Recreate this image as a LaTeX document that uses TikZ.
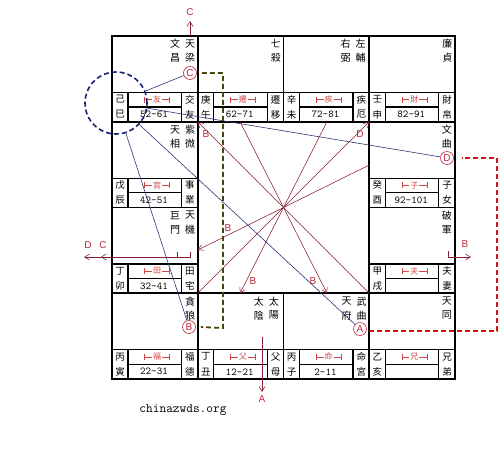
\documentclass[tikz,border=0pt]{standalone}
\usepackage{fontspec}
\newfontfamily\cjk{Noto Sans CJK TC}
\setsansfont{Liberation Sans}
\usetikzlibrary{arrows.meta}
\definecolor{tagred}{RGB}{210,70,70}
\definecolor{arrred}{RGB}{135,30,50}
\definecolor{lblred}{RGB}{190,40,60}
\definecolor{olivedash}{RGB}{70,70,15}
\definecolor{reddash}{RGB}{205,20,20}
\definecolor{navy}{RGB}{25,35,120}
\definecolor{slate}{RGB}{45,55,120}
\tikzset{
 cellline/.style={line width=1.6pt},
 bandline/.style={line width=1.2pt},
 startext/.style={font=\cjk\fontsize{10}{10}\selectfont, inner sep=0pt},
 bandtext/.style={font=\cjk\fontsize{9.5}{10}\selectfont, inner sep=0pt},
 tagtext/.style={font=\cjk\fontsize{8}{8}\selectfont, text=tagred, inner sep=0.8pt},
 tagline/.style={tagred, line width=0.5pt},
 dectext/.style={font=\ttfamily\fontsize{10.5}{10.5}\selectfont, inner sep=0pt},
 circmark/.style={circle, draw=lblred, line width=0.6pt, minimum size=13pt, inner sep=0pt, text=lblred, font=\sffamily\fontsize{10}{10}\selectfont},
 flyline/.style={arrred, line width=0.55pt},
 flyarrow/.style={flyline, -{Straight Barb[length=5pt,width=6pt]}},
 lbl/.style={text=lblred, font=\sffamily\fontsize{10}{10}\selectfont, inner sep=0pt},
 linkline/.style={slate, line width=0.6pt},
 olivestroke/.style={olivedash, line width=1.8pt, dash pattern=on 5pt off 3pt},
 redstroke/.style={reddash, line width=2pt, dash pattern=on 5pt off 3pt},
}
\newcommand\palace[9]{%
 \pgfmathsetmacro\px{112+#1*85.75}%
 \pgfmathsetmacro\py{36+#2*85.75}%
 \draw[cellline] (\px,\py) rectangle ++(85.75,85.75);
 \draw[bandline] (\px,\py+56.5) -- ++(85.75,0)
   (\px+16,\py+56.5) -- (\px+16,\py+85.75)
   (\px+69.5,\py+56.5) -- (\px+69.5,\py+85.75)
   (\px+16,\py+71) -- (\px+69.5,\py+71);
 \node[bandtext] (#9a) at (\px+8,\py+63.5) {#3};
 \node[bandtext] (#9b) at (\px+8,\py+78.5) {#4};
 \node[tagtext] (#9t) at (\px+45,\py+63.5) {#5};
 \draw[tagline] (\px+32.5,\py+60.5) -- (\px+32.5,\py+66.5) (\px+32.5,\py+63.5) -- (#9t.west)
   (#9t.east) -- (\px+57.5,\py+63.5) (\px+57.5,\py+60.5) -- (\px+57.5,\py+66.5);
 \node[dectext] (#9d) at (\px+42,\py+78.5) {#6};
 \node[bandtext] (#9n) at (\px+77.75,\py+63.5) {#7};
 \node[bandtext] (#9m) at (\px+77.75,\py+78.5) {#8};
}
\newcommand\starcol[6]{%
 \pgfmathsetmacro\px{112+#1*85.75}%
 \pgfmathsetmacro\py{36+#2*85.75}%
 \node[startext] (#6a) at (\px+#3,\py+8) {#4};
 \node[startext] (#6b) at (\px+#3,\py+22) {#5};
}
\begin{document}
\begin{tikzpicture}[x=1pt,y=-1pt]
\fill[white] (0,0) rectangle (500,448);
\useasboundingbox (0,0) rectangle (500,448);
% palaces
\palace{0}{0}{己}{巳}{友}{52-61}{交}{友}{si}
\palace{1}{0}{庚}{午}{遷}{62-71}{遷}{移}{wu}
\palace{2}{0}{辛}{未}{疾}{72-81}{疾}{厄}{wei}
\palace{3}{0}{壬}{申}{財}{82-91}{財}{帛}{shen}
\palace{3}{1}{癸}{酉}{子}{92-101}{子}{女}{you}
\palace{3}{2}{甲}{戌}{夫}{}{夫}{妻}{xu}
\palace{3}{3}{乙}{亥}{兄}{}{兄}{弟}{hai}
\palace{2}{3}{丙}{子}{命}{2-11}{命}{宮}{zi}
\palace{1}{3}{丁}{丑}{父}{12-21}{父}{母}{chou}
\palace{0}{3}{丙}{寅}{福}{22-31}{福}{德}{yin}
\palace{0}{2}{丁}{卯}{田}{32-41}{田}{宅}{mao}
\palace{0}{1}{戊}{辰}{官}{42-51}{事}{業}{chen}
% stars
\starcol{0}{0}{78}{天}{梁}{sA}
\starcol{0}{0}{63}{文}{昌}{sB}
\starcol{1}{0}{78}{七}{殺}{sC}
\starcol{2}{0}{77}{左}{輔}{sD}
\starcol{2}{0}{62}{右}{弼}{sE}
\starcol{3}{0}{78}{廉}{貞}{sF}
\starcol{3}{1}{77.5}{文}{曲}{sG}
\starcol{3}{2}{77.5}{破}{軍}{sH}
\starcol{3}{3}{77.5}{天}{同}{sI}
\starcol{2}{3}{78}{武}{曲}{sJ}
\starcol{2}{3}{63}{天}{府}{sK}
\starcol{1}{3}{76}{太}{陽}{sL}
\starcol{1}{3}{61}{太}{陰}{sM}
\starcol{0}{3}{78}{貪}{狼}{sN}
\starcol{0}{2}{78}{天}{機}{sO}
\starcol{0}{2}{63}{巨}{門}{sP}
\starcol{0}{1}{78}{紫}{微}{sQ}
\starcol{0}{1}{63}{天}{相}{sR}
% circle marks
\node[circmark] (cC) at (190,73) {C};
\node[circmark] (cD) at (447,158) {D};
\node[circmark] (cB) at (189,327) {B};
\node[circmark] (cA) at (360,329) {A};
% flying lines through the centre
\coordinate (f1a) at (197.75,121.75); \coordinate (f1b) at (369.25,293.25);
\coordinate (f2a) at (369.25,121.75); \coordinate (f2b) at (197.75,293.25);
\coordinate (f3a) at (240,121.75);    \coordinate (f3b) at (327,293.25);
\coordinate (f4a) at (327,121.75);    \coordinate (f4b) at (240,293.25);
\coordinate (f5a) at (369.25,165);    \coordinate (f5b) at (197.75,250);
\draw[flyarrow] (f1b) -- (f1a);
\draw[flyarrow] (f2b) -- (f2a);
\draw[flyarrow] (f3a) -- (f3b);
\draw[flyarrow] (f4a) -- (f4b);
\draw[flyarrow] (f5a) -- (f5b);
\node[lbl] (l1) at (206,134) {B};
\node[lbl] (l2) at (360,134) {D};
\node[lbl] (l3) at (228,228) {B};
\node[lbl] (l4) at (253,281) {B};
\node[lbl] (l5) at (313,281) {B};
% outside arrows
\coordinate (uC1) at (190,36); \coordinate (uC2) at (190,21);
\draw[flyarrow] (uC1) -- (uC2);
\node[lbl] (lC) at (190,12) {C};
\coordinate (dA1) at (262,337); \coordinate (dA2) at (262,392);
\draw[flyarrow] (dA1) -- (dA2);
\node[lbl] (lA) at (262,399) {A};
\coordinate (lt1) at (190,252); \coordinate (lt2) at (190,257); \coordinate (lt3) at (84,257);
\coordinate (lt4) at (177,252); \coordinate (lt5) at (177,257);
\draw[flyline, -{Straight Barb[length=5pt,width=6pt,sep=11pt] Straight Barb[length=5pt,width=6pt]}] (lt1) -- (lt2) -- (lt3);
\draw[flyline] (lt4) -- (lt5);
\node[lbl] (lD) at (88,245) {D};
\node[lbl] (lC2) at (103,245) {C};
\coordinate (rt1) at (448,251); \coordinate (rt2) at (448,257); \coordinate (rt3) at (471,257);
\draw[flyarrow] (rt1) -- (rt2) -- (rt3);
\node[lbl] (lB) at (465,244) {B};
% navy dashed circle and links
\node[draw=navy, circle, line width=1.6pt, dash pattern=on 5pt off 3pt, minimum size=62pt, inner sep=0pt] (nv) at (116,103) {};
\draw[linkline] (nv) -- (cC);
\draw[linkline] (nv) -- (cD);
\draw[linkline] (nv) -- (cB);
\draw[linkline] (nv) -- (cA);
% dashed connectors
\coordinate (o1) at (223,73); \coordinate (o2) at (223,328);
\draw[olivestroke] ([xshift=5pt]cC.east) -- (o1) -- (o2) -- ([xshift=5pt]cB.east);
\coordinate (r1) at (497,331); \coordinate (r2) at (497,158);
\draw[redstroke] ([xshift=2pt]cA.east |- r1) -- (r1) -- (r2) -- ([xshift=8pt]cD.east);
% footer
\node[font=\ttfamily\fontsize{13}{13}\selectfont, inner sep=0pt] (site) at (183,410) {chinazwds.org};
\end{tikzpicture}
\end{document}
